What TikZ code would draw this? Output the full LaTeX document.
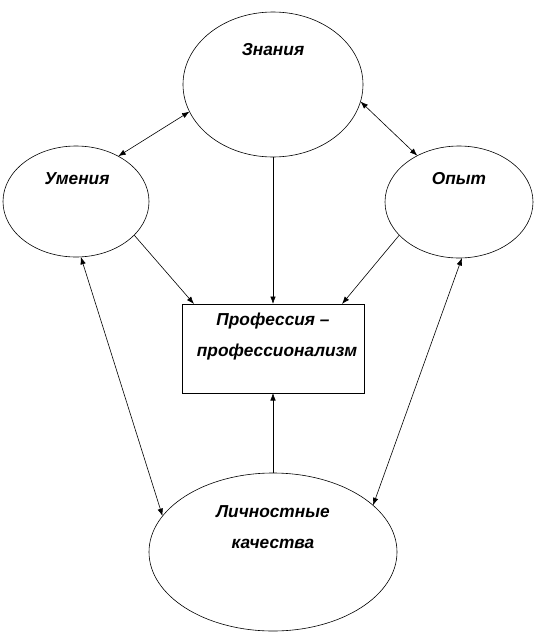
\documentclass[tikz,border=0pt]{standalone}
\usepackage{fontspec}
\setmainfont{Liberation Sans}
\usetikzlibrary{shapes.geometric,arrows.meta}
\begin{document}
\begin{tikzpicture}[x=1pt,y=-1pt,
  oval/.style={draw,ellipse,inner sep=0pt,outer sep=0pt,line width=0.6pt},
  boxnode/.style={draw,rectangle,inner sep=0pt,outer sep=0pt,line width=0.6pt},
  lbl/.style={font=\fontsize{17.3}{31}\selectfont\bfseries\itshape,anchor=base,inner sep=0pt},
  conn/.style={line width=0.6pt,-{Latex[length=7.5pt,width=5.5pt]}},
  biconn/.style={line width=0.6pt,{Latex[length=7.5pt,width=5.5pt]}-{Latex[length=7.5pt,width=5.5pt]}}]
\useasboundingbox (0,0) rectangle (538,638);
% shapes
\node[oval,minimum width=180pt,minimum height=145pt] (zn) at (273,84.5) {};
\node[oval,minimum width=146pt,minimum height=111pt] (um) at (76,201.5) {};
\node[oval,minimum width=148pt,minimum height=112pt] (op) at (459,202) {};
\node[oval,minimum width=248pt,minimum height=158pt] (lk) at (273,552) {};
\node[boxnode,minimum width=182pt,minimum height=89pt] (pr) at (273,348.5) {};
% labels
\node[lbl] (tzn) at (273,55) {Знания};
\node[lbl] (tum) at (77,184) {Умения};
\node[lbl] (top) at (459,184) {Опыт};
\node[lbl] (tpr1) at (273,325) {Профессия –};
\node[lbl] (tpr2) at (277,356) {профессионализм};
\node[lbl] (tlk1) at (273,517) {Личностные};
\node[lbl] (tlk2) at (273,548) {качества};
% connectors
\draw[biconn] (um.47) -- (zn.198);
\draw[biconn] (zn.349) -- (op.132);
\draw[conn] (zn.270) -- (pr.north);
\draw[conn] (um.330) -- ([xshift=12pt]pr.north west);
\draw[conn] (op.209) -- ([xshift=-22pt]pr.north east);
\draw[conn] (lk.90) -- (pr.south);
\draw[biconn] (um.275) -- (lk.162);
\draw[biconn] (op.273) -- (lk.25);
\end{tikzpicture}
\end{document}
